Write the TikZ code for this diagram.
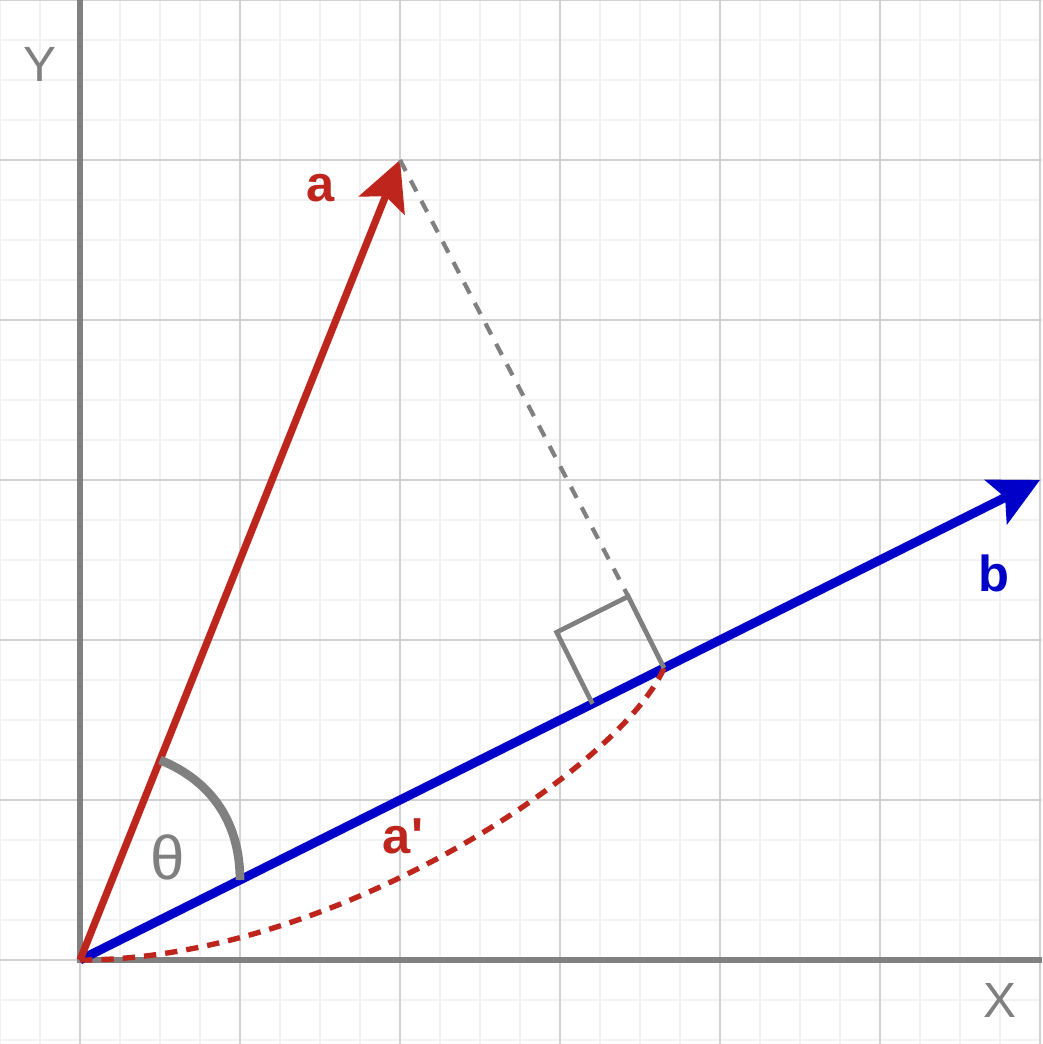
\documentclass[tikz,border=0pt]{standalone}
\usepackage{fontspec}
\setmainfont{Liberation Sans}
\usetikzlibrary{arrows.meta,calc}
\definecolor{vecred}{RGB}{190,38,29}
\definecolor{vecblue}{RGB}{0,0,200}
\definecolor{axisgray}{RGB}{128,128,128}
\definecolor{gridmajor}{RGB}{210,210,210}
\definecolor{gridminor}{RGB}{242,242,242}

\begin{document}
\begin{tikzpicture}[
    minorgrid/.style={draw=gridminor, line width=0.4pt},
    majorgrid/.style={draw=gridmajor, line width=0.25pt},
    axisline/.style={draw=axisgray, line width=0.9pt},
    vecline/.style={line width=#1, -{Stealth[length=0.306cm, width=0.306cm, inset=0.0625cm]}},
    projline/.style={draw=axisgray, line width=0.75pt, dash pattern=on 2.2pt off 1.9pt},
    projcurve/.style={draw=vecred, line width=0.95pt, dash pattern=on 2.2pt off 1.6pt},
    rightbox/.style={draw=axisgray, line width=0.85pt},
    anglearc/.style={draw=axisgray, line width=1.55pt},
    veclabel/.style={inner sep=0pt, font=\fontsize{9pt}{11pt}\selectfont\bfseries},
    axislabel/.style={inner sep=0pt, text=axisgray, font=\fontsize{8.8pt}{11pt}\selectfont}
  ]
  \useasboundingbox (-0.5,-0.525) rectangle (6.0125,6);
  \draw[minorgrid] (-0.5,-0.525) grid[step=0.25] (6.0125,6);
  \draw[majorgrid] (-0.5,-0.525) grid[step=1] (6.0125,6);

  \coordinate (O) at (0,0);
  \coordinate (ytop) at (0,6);
  \coordinate (xend) at (6.0125,0);
  \coordinate (A) at (2,5);
  \coordinate (B) at (6,3);
  \coordinate (F) at (3.65,1.825);
  \coordinate (boxtop) at ($(F)!0.5cm!-90:(O)$);
  \coordinate (boxlow) at ($(F)!0.5cm!(O)$);
  \coordinate (boxleft) at ($(boxtop)+(boxlow)-(F)$);

  \draw[axisline] (ytop) -- (O) -- (xend);

  \draw[vecline=1.6pt, vecblue] (O) -- (B);
  \draw[vecline=1.3pt, vecred] (O) -- (A);
  \draw[projcurve] (O) .. controls (1.6,0) and (3.39,1.22) .. (F);
  \draw[anglearc] ($(O)!0.25!(A)$) to[out=-22, in=90] ($(O)!1/6!(B)$);
  \draw[rightbox] (boxlow) -- (boxleft) -- (boxtop) -- (F);
  \draw[projline] (A) -- (boxtop);

  \node[veclabel, text=vecred] (alabel) at (1.503,4.825) {a};
  \node[veclabel, text=vecblue] (blabel) at (5.7125,2.419) {b};
  \node[veclabel, text=vecred] (aplabel) at (2.019,0.775) {a\textquotesingle};
  \node[inner sep=0pt, text=axisgray, font=\fontsize{11pt}{13pt}\selectfont] (theta) at (0.55,0.644) {θ};
  \node[axislabel] (ylabel) at (-0.25,5.597) {Y};
  \node[axislabel] (xlabel) at (5.75,-0.253) {X};
\end{tikzpicture}
\end{document}
